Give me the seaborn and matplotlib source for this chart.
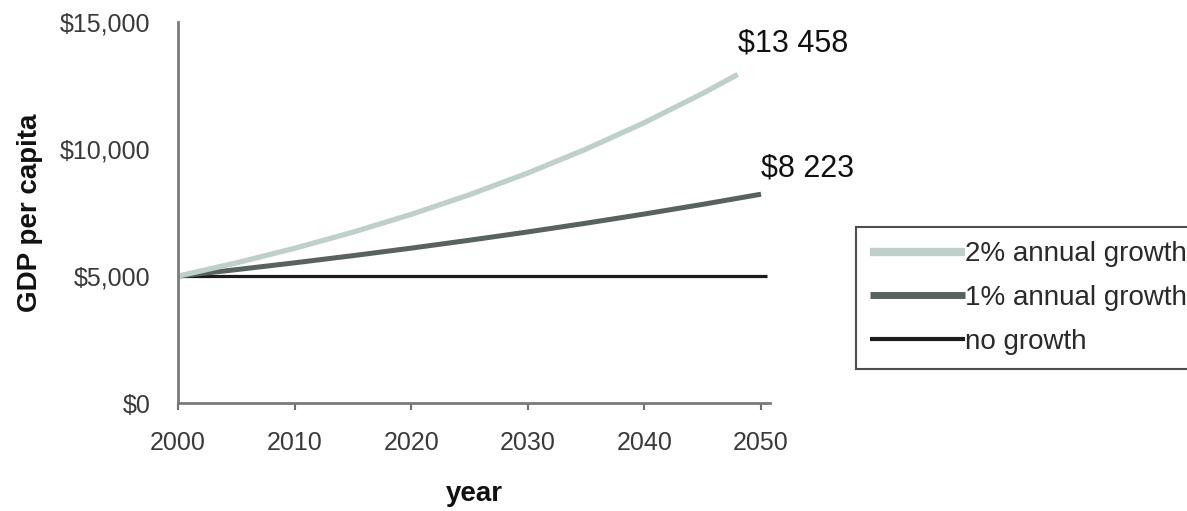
import matplotlib
matplotlib.use("Agg")
import matplotlib.pyplot as plt
import seaborn as sns
import pandas as pd

# GDP per capita paths (US$) read at five-year steps
years_2pct = [2000, 2005, 2010, 2015, 2020, 2025, 2030, 2035, 2040, 2045, 2048]
gdp_2pct = [5000, 5520, 6095, 6729, 7430, 8203, 9057, 10000, 11040, 12190, 12936]

years_1pct = [2000, 2005, 2010, 2015, 2020, 2025, 2030, 2035, 2040, 2045, 2050]
gdp_1pct = [5000, 5255, 5523, 5805, 6101, 6412, 6739, 7083, 7444, 7824, 8223]

years_flat = [2000, 2050.5]
gdp_flat = [5000, 5000]

label_2pct = 13458
label_1pct = 8223

series_names = ["2% annual growth", "1% annual growth", "no growth"]
x_ticks = [2000, 2010, 2020, 2030, 2040, 2050]
y_ticks = [0, 5000, 10000, 15000]

sns.set_theme(style="white")
plt.rcParams["font.family"] = ["Liberation Sans", "DejaVu Sans"]

fig = plt.figure(figsize=(11.87, 5.11), dpi=100)
ax = fig.add_axes([0.150, 0.211, 0.499, 0.746])

colors = ["#bfd0c9", "#58625f", "#1c1c1c"]
widths = [3.8, 3.6, 2.3]

frames = [
    pd.DataFrame({"year": years_2pct, "gdp": gdp_2pct}),
    pd.DataFrame({"year": years_1pct, "gdp": gdp_1pct}),
    pd.DataFrame({"year": years_flat, "gdp": gdp_flat}),
]
# draw the flat line first so the growth curves sit on top of it
for i in [2, 1, 0]:
    sns.lineplot(data=frames[i], x="year", y="gdp", ax=ax, color=colors[i],
                 linewidth=widths[i], label=series_names[i], legend=False,
                 solid_capstyle="butt")

ax.set_xlim(2000, 2050.8)
ax.set_ylim(0, 15000)
ax.set_xticks(x_ticks)
ax.set_yticks(y_ticks)
ax.set_yticklabels([f"${v:,}" for v in y_ticks])
ax.tick_params(axis="x", which="both", bottom=True, length=5, width=1.5,
               color="#707070", labelsize=18, labelcolor="#3a3a3a", pad=15)
ax.tick_params(axis="y", left=False, labelsize=18, labelcolor="#3a3a3a", pad=14)

for side in ["top", "right"]:
    ax.spines[side].set_visible(False)
for side in ["left", "bottom"]:
    ax.spines[side].set_color("#7a7a7a")
    ax.spines[side].set_linewidth(2)

ax.set_xlabel("year", fontsize=20, fontweight="bold", labelpad=19, color="#111111")
ax.set_ylabel("GDP per capita", fontsize=20, fontweight="bold", labelpad=12,
              color="#111111")

ax.text(2048, label_2pct + 100, f"${label_2pct:,}".replace(",", " "),
        fontsize=22, color="#111111", ha="left", va="bottom")
ax.text(2050, label_1pct + 420, f"${label_1pct:,}".replace(",", " "),
        fontsize=22, color="#111111", ha="left", va="bottom")

# legend in the original series order; its right edge runs off the canvas
line_handles = {l.get_label(): l for l in ax.get_lines()}
leg = fig.legend([line_handles[n] for n in series_names], series_names,
                 loc="upper left", bbox_to_anchor=(0.7215, 0.555),
                 fontsize=20, frameon=True, fancybox=False,
                 handlelength=3.4, handletextpad=0.0, labelspacing=0.64,
                 borderpad=0.5, borderaxespad=0)
leg.get_frame().set_edgecolor("#222222")
leg.get_frame().set_linewidth(1.5)
for t in leg.get_texts():
    t.set_color("#2a2a2a")
for lh, w in zip(leg.get_lines(), [6, 5, 3]):
    lh.set_linewidth(w)

fig.savefig("out.png", dpi=100, facecolor="white")
